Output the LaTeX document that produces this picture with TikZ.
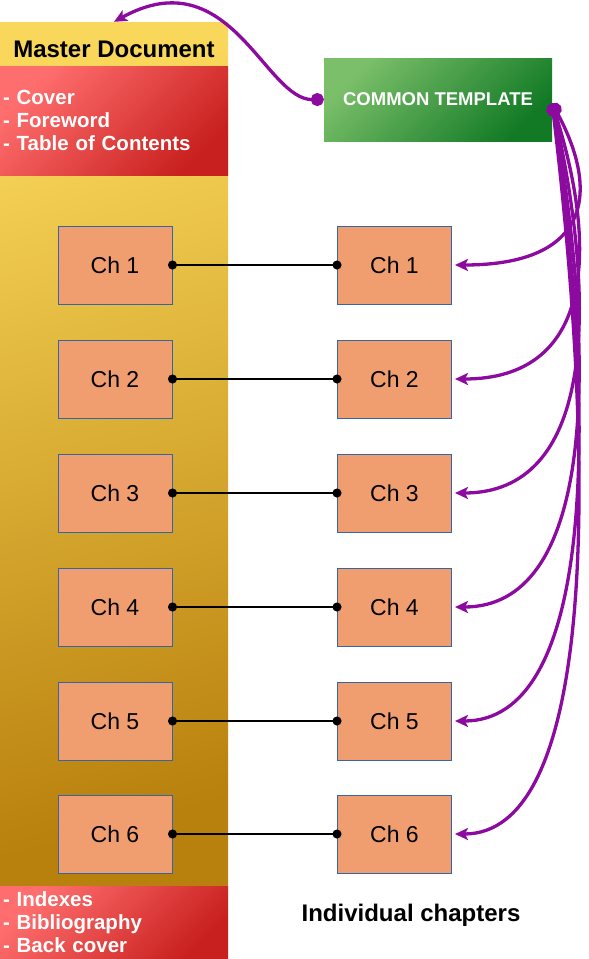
\documentclass[tikz,border=0pt]{standalone}
\usepackage{fontspec}
\setmainfont{Liberation Sans}
\usetikzlibrary{arrows.meta,shadings}
\definecolor{docyellow}{RGB}{249,215,90}
\definecolor{docbrown}{RGB}{184,128,12}
\definecolor{listred}{RGB}{255,110,110}
\definecolor{listdark}{RGB}{200,32,30}
\definecolor{tmpllight}{RGB}{123,191,106}
\definecolor{tmpldark}{RGB}{18,122,37}
\definecolor{chapfill}{RGB}{240,158,112}
\definecolor{chapline}{RGB}{52,101,164}
\definecolor{linkpurple}{RGB}{140,10,160}
\tikzstyle{chapter}=[rectangle,draw=chapline,fill=chapfill,line width=1pt,minimum width=114pt,minimum height=78pt,inner sep=0pt,font=\fontsize{23}{28}\selectfont]
\tikzstyle{frontback}=[rectangle,top color=listred,bottom color=listdark,shading angle=45,text=white,font=\bfseries\fontsize{20.5}{23}\selectfont,text width=222pt,inner xsep=3pt,inner ysep=0pt,align=left,minimum width=228pt]
\tikzstyle{link} = [draw,line width=1.5pt,{Circle[length=9pt]}-{Circle[length=9pt]},shorten <=-4.5pt,shorten >=-4.5pt]
\tikzstyle{feed} = [draw=linkpurple,line width=3.3pt,{Circle[length=13pt]}-{Stealth[length=13pt,width=12pt,inset=3pt]}]

\begin{document}
\begin{tikzpicture}[x=1pt,y=-1pt]
    \useasboundingbox (0,0) rectangle (589,959);
    % Master document column with its front and back matter
    \node[rectangle,top color=docyellow,bottom color=docbrown,shading angle=15,minimum width=228pt,minimum height=864pt,inner sep=0pt] (master) at (114,454) {};
    \node[font=\bfseries\fontsize{24}{28}\selectfont] (title) at (114,49) {Master Document};
    \node[frontback,minimum height=109pt] (front) at (114,120.5) {- Cover\\- Foreword\\- Table of Contents};
    \node[frontback,minimum height=73pt] (back) at (114,922.5) {- Indexes\\- Bibliography\\- Back cover};

    % Template box
    \node[rectangle,top color=tmpllight,bottom color=tmpldark,shading angle=45,text=white,font=\bfseries\fontsize{18.5}{22}\selectfont,minimum width=228pt,minimum height=83pt,inner sep=0pt] (tmpl) at (438,99.5) {COMMON TEMPLATE};

    % Chapters on both sides
    \foreach \i/\y in {1/265,2/379,3/493,4/607,5/721,6/834} {
        \node[chapter] (L\i) at (115,\y) {Ch \i};
        \node[chapter] (R\i) at (394.5,\y) {Ch \i};
    }
    \node[font=\bfseries\fontsize{24}{28}\selectfont] (indiv) at (411,915) {Individual chapters};

    % Connect chapters and feed the template
    \foreach \i in {1,...,6}
        \path[link] (L\i.east) -- (R\i.west);
    \path[feed] (tmpl.west) .. controls (265,100) and (230,-42) .. (master.north);
    \foreach \i/\y in {1/265,2/379,3/493,4/607,5/721,6/834}
        \path[feed] ([yshift=-4pt]tmpl.east) .. controls (600,{104+0.55*(\y-104)}) and (590,\y) .. ([xshift=3pt]R\i.east);
\end{tikzpicture}
\end{document}
